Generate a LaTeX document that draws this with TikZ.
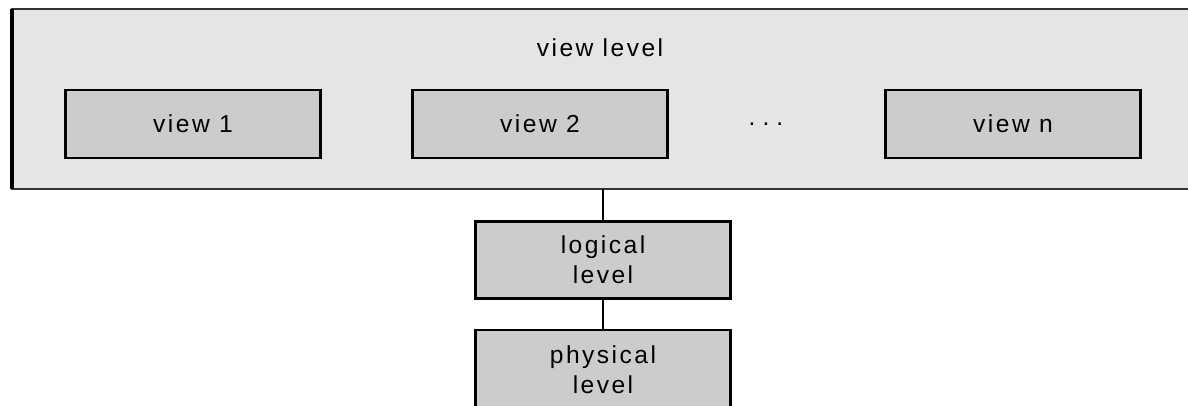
\documentclass[tikz,border=0pt]{standalone}
\usepackage{fontspec}
\setmainfont{Liberation Sans}[LetterSpace=10]
\usetikzlibrary{positioning}
\colorlet{framefillc}{black!10}
\colorlet{boxfillc}{black!20}

\begin{document}
\begin{tikzpicture}[x=0.02cm,y=-0.02cm,
  levelbox/.style={draw=black,line width=1.3pt,fill=boxfillc,minimum width=5.1cm,minimum height=1.36cm,
    align=center,font=\fontsize{14}{17}\selectfont}]
\clip (0,0) rectangle (1188,406);
% the view level frame, with its heavier left edge
\filldraw[fill=framefillc,draw=black!80,line width=1pt] (12,9) rectangle (1200,189);
\draw[line width=2.2pt] (12,9) -- (12,189);
\node[font=\fontsize{14}{17}\selectfont] (viewlevel) at (600,48) {view level};

\node[levelbox] (view1) at (193,124) {view 1};
\node[levelbox] (view2) at (540,124) {view 2};
\node[font=\fontsize{14}{17}\selectfont] (dots) at (766,124) {.\hspace{4pt}.\hspace{4pt}.};
\node[levelbox] (viewn) at (1013,124) {view n};

\node[levelbox,minimum height=1.54cm] (logical) at (603,260) {logical\\level};
\node[levelbox,minimum height=1.6cm] (physical) at (603,370) {physical\\level};

\coordinate (framebottom) at (603,189);
\draw[line width=1pt] (framebottom) -- (logical);
\draw[line width=1pt] (logical) -- (physical);
\end{tikzpicture}
\end{document}
